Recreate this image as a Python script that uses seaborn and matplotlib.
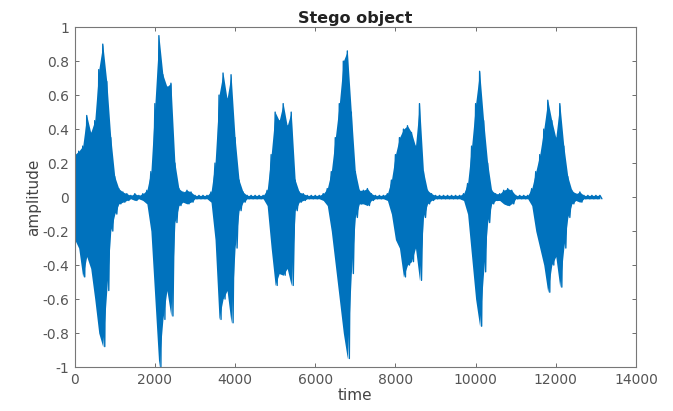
import numpy as np
import pandas as pd
import seaborn as sns
import matplotlib
matplotlib.use("Agg")
import matplotlib.pyplot as plt

# envelope of the waveform, read every 100 samples (0 .. 13100)
time_step = 100
upper = [0.25, 0.27, 0.30, 0.48, 0.38, 0.45, 0.75, 0.90, 0.68, 0.35,
         0.12, 0.05, 0.03, 0.02, 0.01, 0.02, 0.01, 0.02, 0.04, 0.15,
         0.55, 0.95, 0.72, 0.65, 0.67, 0.20, 0.05, 0.03, 0.04, 0.03,
         0.01, 0.01, 0.01, 0.01, 0.03, 0.20, 0.60, 0.73, 0.58, 0.72,
         0.35, 0.10, 0.03, 0.01, 0.01, 0.01, 0.01, 0.01, 0.04, 0.25,
         0.50, 0.45, 0.55, 0.42, 0.50, 0.10, 0.03, 0.02, 0.01, 0.01,
         0.01, 0.01, 0.02, 0.05, 0.15, 0.35, 0.55, 0.80, 0.86, 0.50,
         0.15, 0.04, 0.04, 0.05, 0.02, 0.01, 0.01, 0.01, 0.02, 0.10,
         0.25, 0.35, 0.40, 0.42, 0.38, 0.30, 0.55, 0.15, 0.04, 0.02,
         0.01, 0.01, 0.01, 0.01, 0.01, 0.01, 0.01, 0.02, 0.08, 0.30,
         0.55, 0.74, 0.45, 0.20, 0.04, 0.02, 0.02, 0.04, 0.05, 0.04,
         0.01, 0.01, 0.01, 0.01, 0.05, 0.15, 0.25, 0.40, 0.57, 0.45,
         0.35, 0.55, 0.30, 0.12, 0.04, 0.02, 0.03, 0.01, 0.01, 0.01,
         0.01, 0.01]
lower = [-0.25, -0.30, -0.47, -0.35, -0.42, -0.60, -0.80, -0.88, -0.55, -0.20,
         -0.10, -0.04, -0.03, -0.02, -0.01, -0.02, -0.01, -0.02, -0.04, -0.20,
         -0.60, -1.00, -0.72, -0.55, -0.70, -0.15, -0.05, -0.03, -0.04, -0.03,
         -0.01, -0.01, -0.01, -0.01, -0.03, -0.25, -0.72, -0.60, -0.55, -0.74,
         -0.30, -0.08, -0.03, -0.01, -0.01, -0.01, -0.01, -0.01, -0.05, -0.30,
         -0.52, -0.45, -0.46, -0.42, -0.52, -0.08, -0.03, -0.02, -0.01, -0.01,
         -0.01, -0.01, -0.02, -0.05, -0.20, -0.40, -0.60, -0.80, -0.95, -0.45,
         -0.12, -0.04, -0.04, -0.05, -0.02, -0.01, -0.01, -0.01, -0.02, -0.10,
         -0.25, -0.30, -0.47, -0.40, -0.38, -0.30, -0.49, -0.12, -0.04, -0.02,
         -0.01, -0.01, -0.01, -0.01, -0.01, -0.01, -0.01, -0.02, -0.10, -0.35,
         -0.60, -0.76, -0.44, -0.15, -0.04, -0.02, -0.02, -0.04, -0.05, -0.04,
         -0.01, -0.01, -0.01, -0.01, -0.05, -0.20, -0.30, -0.40, -0.56, -0.40,
         -0.35, -0.53, -0.30, -0.12, -0.04, -0.02, -0.03, -0.01, -0.01, -0.01,
         -0.01, -0.01]
x_ticks = [0, 2000, 4000, 6000, 8000, 10000, 12000, 14000]
y_ticks = [-1, -0.8, -0.6, -0.4, -0.2, 0, 0.2, 0.4, 0.6, 0.8, 1]

t = np.arange(len(upper)) * time_step
# alternate upper/lower so the line swings like the sampled signal
df = pd.DataFrame({
    "time": np.ravel(np.column_stack([t, t + time_step / 2])),
    "amplitude": np.ravel(np.column_stack([upper, lower])),
})

sns.set_theme(style="white")
plt.rcParams["font.family"] = ["DejaVu Sans"]

fig = plt.figure(figsize=(6.73, 4.11), dpi=100)
ax = fig.add_axes([0.111, 0.107, 0.834, 0.827])

blue = "#0072BD"
# solid body of the waveform between the two envelopes
ax.fill_between(t, lower, upper, color=blue, linewidth=0)
sns.lineplot(data=df, x="time", y="amplitude", sort=False, estimator=None,
             color=blue, linewidth=1.0, ax=ax)

ax.set_xlim(0, 14000)
ax.set_ylim(-1, 1)
ax.set_xticks(x_ticks)
ax.set_xticklabels([str(v) for v in x_ticks])
ax.set_yticks(y_ticks)
ax.set_yticklabels(["%g" % v for v in y_ticks])
ax.tick_params(direction="in", length=3, width=0.6, colors="#555555",
               labelsize=10, top=True, right=True, bottom=True, left=True, pad=4)
for s in ax.spines.values():
    s.set_color("#777777")
    s.set_linewidth(0.8)

ax.set_title("Stego object", fontsize=11.5, fontweight="bold", pad=3, color="#222222")
ax.set_xlabel("time", fontsize=11, labelpad=1, color="#444444")
ax.set_ylabel("amplitude", fontsize=11, labelpad=1, color="#444444")

fig.savefig("out.png", dpi=100)
